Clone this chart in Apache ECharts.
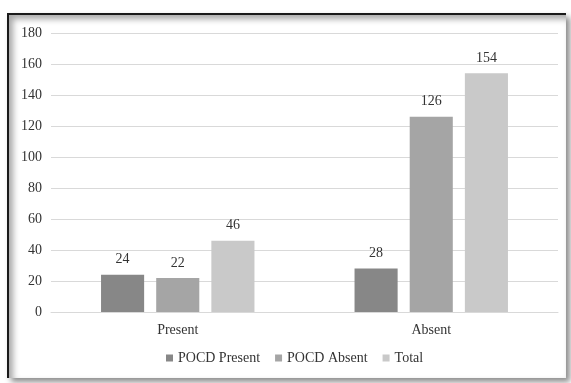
<!DOCTYPE html>
<html>
<head>
<meta charset="utf-8">
<script src="https://cdn.jsdelivr.net/npm/echarts@6/dist/echarts.min.js"></script>
<style>
  html, body { margin: 0; padding: 0; background: #ffffff; }
  #chart { position: absolute; left: 0; top: 0; width: 571px; height: 383px; }
  #frame {
    position: absolute; left: 7px; top: 13px; width: 557px; height: 363px;
    border-top: 2px solid #1a1a1a; border-left: 2px solid #1a1a1a;
    box-shadow: inset 4px 4px 6px rgba(0,0,0,0.35), 4px 4px 6px rgba(0,0,0,0.45);
    pointer-events: none;
  }
</style>
</head>
<body>
<div id="chart"></div>
<div id="frame"></div>
<script>
// POCD status by group
const categories = ['Present', 'Absent'];
const seriesNames = ['POCD Present', 'POCD Absent', 'Total'];
const pocdPresent = [24, 28];
const pocdAbsent = [22, 126];
const total = [46, 154];
const seriesColors = ['#878787', '#a5a5a5', '#c9c9c9'];

const font = '"Liberation Serif", "Times New Roman", serif';
const values = [pocdPresent, pocdAbsent, total];

const chart = echarts.init(document.getElementById('chart'), null, { renderer: 'canvas' });
chart.setOption({
  animation: false,
  backgroundColor: '#ffffff',
  grid: { left: 51, right: 13, top: 33, bottom: 71, containLabel: false },
  legend: {
    data: seriesNames,
    bottom: 13,
    left: 161,
    itemWidth: 7,
    itemHeight: 7,
    itemGap: 15,
    icon: 'rect',
    textStyle: { fontFamily: font, fontSize: 14, color: '#333333' }
  },
  xAxis: {
    type: 'category',
    data: categories,
    axisLine: { show: true, lineStyle: { color: '#d9d9d9', width: 1 } },
    axisTick: { show: false },
    axisLabel: { fontFamily: font, fontSize: 14, color: '#333333', margin: 11 }
  },
  yAxis: {
    type: 'value',
    min: 0,
    max: 180,
    interval: 20,
    axisLine: { show: false },
    axisTick: { show: false },
    splitLine: { lineStyle: { color: '#d9d9d9', width: 1 } },
    axisLabel: { fontFamily: font, fontSize: 14, color: '#333333', margin: 9 }
  },
  series: seriesNames.map((name, i) => ({
    name: name,
    type: 'bar',
    data: values[i],
    barWidth: '17%',
    barGap: '28%',
    barCategoryGap: '40%',
    itemStyle: { color: seriesColors[i] },
    label: {
      show: true,
      position: 'top',
      distance: 8,
      fontFamily: font,
      fontSize: 14,
      color: '#333333'
    }
  }))
});
</script>
</body>
</html>
